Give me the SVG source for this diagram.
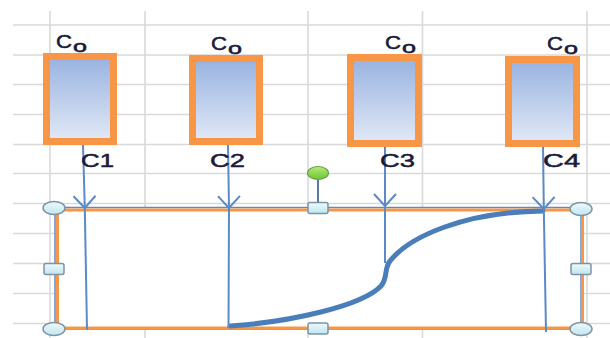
<svg xmlns="http://www.w3.org/2000/svg" width="610" height="338" viewBox="0 0 610 338">
  <defs>
    <linearGradient id="boxFill" x1="0" y1="0" x2="0" y2="1">
      <stop offset="0" stop-color="#97B2E0"/>
      <stop offset="1" stop-color="#E2E9F6"/>
    </linearGradient>
    <linearGradient id="handleFill" x1="0" y1="0" x2="0" y2="1">
      <stop offset="0" stop-color="#EEF9FB"/>
      <stop offset="1" stop-color="#BFE7EF"/>
    </linearGradient>
    <linearGradient id="rotFill" x1="0" y1="0" x2="0" y2="1">
      <stop offset="0" stop-color="#B4EC7A"/>
      <stop offset="1" stop-color="#6CC334"/>
    </linearGradient>
    <marker id="vee" markerUnits="userSpaceOnUse" markerWidth="30" markerHeight="30" viewBox="-15 -15 30 30" refX="0" refY="0" orient="auto">
      <path d="M-12,-11 L0,0 L-12,11" fill="none" stroke="#5B8AC6" stroke-width="2"/>
    </marker>
    <style>
      .grid { stroke: #D9D9D9; stroke-width: 1.6; }
      .box { fill: url(#boxFill); stroke: #F79646; stroke-width: 7; }
      .lbl { font-family: "Liberation Sans", Arial, sans-serif; font-size: 19px; fill: #1A1A3A; stroke: #1A1A3A; stroke-width: 0.5; }
      .sub { font-family: "Liberation Sans", Arial, sans-serif; font-size: 17px; fill: #1A1A3A; stroke: #1A1A3A; stroke-width: 0.6; }
      .conn { fill: none; stroke: #5B8AC6; stroke-width: 2; marker-mid: url(#vee); }
      .curve { fill: none; stroke: #4A7EBB; stroke-width: 5; stroke-linecap: round; }
      .hround { fill: url(#handleFill); stroke: #7F93A6; stroke-width: 1.5; }
      .hsq { fill: url(#handleFill); stroke: #7F93A6; stroke-width: 1.5; }
    </style>
  </defs>

  <rect x="0" y="0" width="610" height="338" fill="#FFFFFF"/>

  <g id="grid">
    <line class="grid" x1="13" y1="25" x2="610" y2="25"/>
    <line class="grid" x1="13" y1="55" x2="610" y2="55"/>
    <line class="grid" x1="13" y1="84.5" x2="610" y2="84.5"/>
    <line class="grid" x1="13" y1="114.5" x2="610" y2="114.5"/>
    <line class="grid" x1="13" y1="144.5" x2="610" y2="144.5"/>
    <line class="grid" x1="13" y1="173.5" x2="610" y2="173.5"/>
    <line class="grid" x1="13" y1="203.5" x2="610" y2="203.5"/>
    <line class="grid" x1="13" y1="233.5" x2="610" y2="233.5"/>
    <line class="grid" x1="13" y1="263.5" x2="610" y2="263.5"/>
    <line class="grid" x1="13" y1="293.5" x2="610" y2="293.5"/>
    <line class="grid" x1="13" y1="323.5" x2="610" y2="323.5"/>
    <line class="grid" x1="50" y1="11" x2="50" y2="338"/>
    <line class="grid" x1="145" y1="11" x2="145" y2="338"/>
    <line class="grid" x1="308" y1="11" x2="308" y2="338"/>
    <line class="grid" x1="422.5" y1="11" x2="422.5" y2="338"/>
    <line class="grid" x1="587" y1="11" x2="587" y2="338"/>
  </g>

  <g id="chart">
    <rect x="55" y="207.5" width="526" height="121.5" fill="#FFFFFF" stroke="#5B8AC6" stroke-width="1.5"/>
    <rect x="57.5" y="210" width="525" height="118" fill="none" stroke="#F79646" stroke-width="3"/>
    <path class="curve" d="M230,326 C290,322 362,306 381,286 C388,278 384,268 390,261 C410,236 465,212 543,211"/>
  </g>

  <g id="connectors">
    <polyline class="conn" points="83,145 84.8,208 87,330"/>
    <polyline class="conn" points="228,145 229,208 228.5,328"/>
    <polyline class="conn" points="385,145 385,206 385,263"/>
    <polyline class="conn" points="543,145 543.8,209 546,332"/>
  </g>

  <g id="tank1">
    <rect class="box" x="46.5" y="56.5" width="67" height="85"/>
    <text class="lbl" x="56" y="48" textLength="16" lengthAdjust="spacingAndGlyphs">C</text>
    <text class="sub" x="73" y="52" textLength="14" lengthAdjust="spacingAndGlyphs">o</text>
    <text class="lbl" x="81" y="167" textLength="33" lengthAdjust="spacingAndGlyphs">C1</text>
  </g>
  <g id="tank2">
    <rect class="box" x="192.5" y="58.5" width="67" height="83"/>
    <text class="lbl" x="211" y="50" textLength="16" lengthAdjust="spacingAndGlyphs">C</text>
    <text class="sub" x="228" y="54" textLength="14" lengthAdjust="spacingAndGlyphs">o</text>
    <text class="lbl" x="210" y="167" textLength="35" lengthAdjust="spacingAndGlyphs">C2</text>
  </g>
  <g id="tank3">
    <rect class="box" x="350.5" y="57.5" width="68" height="86"/>
    <text class="lbl" x="385" y="49" textLength="16" lengthAdjust="spacingAndGlyphs">C</text>
    <text class="sub" x="402" y="53" textLength="14" lengthAdjust="spacingAndGlyphs">o</text>
    <text class="lbl" x="380" y="167" textLength="35" lengthAdjust="spacingAndGlyphs">C3</text>
  </g>
  <g id="tank4">
    <rect class="box" x="508.5" y="59.5" width="68" height="84"/>
    <text class="lbl" x="547" y="50" textLength="16" lengthAdjust="spacingAndGlyphs">C</text>
    <text class="sub" x="564" y="54" textLength="14" lengthAdjust="spacingAndGlyphs">o</text>
    <text class="lbl" x="543" y="167" textLength="37" lengthAdjust="spacingAndGlyphs">C4</text>
  </g>

  <g id="handles">
    <line x1="318" y1="179" x2="318" y2="203" stroke="#5A7AA0" stroke-width="2"/>
    <ellipse cx="318" cy="173" rx="10.5" ry="6.5" fill="url(#rotFill)" stroke="#6FA544" stroke-width="1.2"/>
    <ellipse class="hround" cx="54" cy="208" rx="11" ry="6.5"/>
    <ellipse class="hround" cx="581" cy="209" rx="11" ry="6.5"/>
    <ellipse class="hround" cx="54" cy="329" rx="11" ry="6.5"/>
    <ellipse class="hround" cx="581" cy="329" rx="11" ry="6.5"/>
    <rect class="hsq" x="308" y="202.5" width="20" height="11" rx="2"/>
    <rect class="hsq" x="308" y="323" width="20" height="11" rx="2"/>
    <rect class="hsq" x="44" y="263.5" width="20" height="11" rx="2"/>
    <rect class="hsq" x="571" y="263.5" width="20" height="11" rx="2"/>
  </g>
</svg>
